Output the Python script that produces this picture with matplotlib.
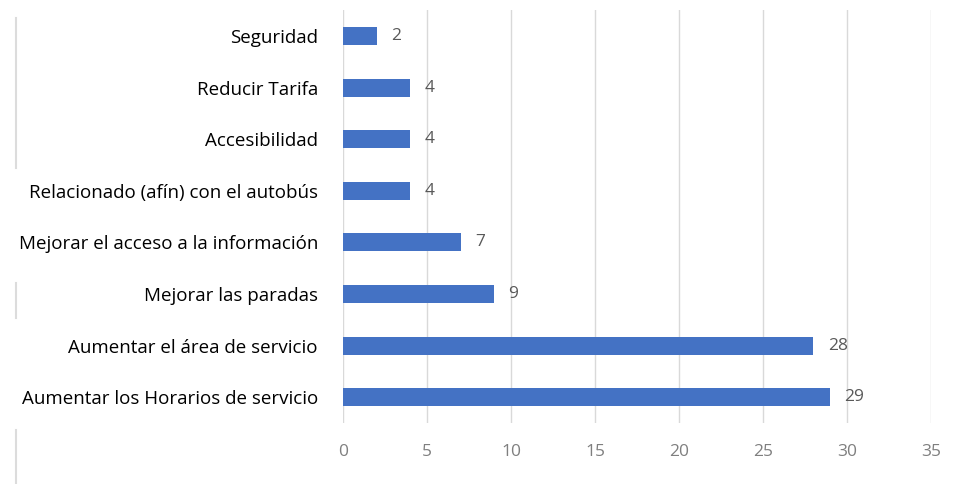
import matplotlib.pyplot as plt
from matplotlib.lines import Line2D

# data
categories = ['Seguridad', 'Reducir Tarifa', 'Accesibilidad',
              'Relacionado (afín) con el autobús',
              'Mejorar el acceso a la información', 'Mejorar las paradas',
              'Aumentar el área de servicio', 'Aumentar los Horarios de servicio']
values = [2, 4, 4, 4, 7, 9, 28, 29]
xticks = [0, 5, 10, 15, 20, 25, 30, 35]

plt.rcParams['font.family'] = ['Open Sans', 'DejaVu Sans']

fig = plt.figure(figsize=(9.54, 4.84), dpi=100)
ax = fig.add_axes([0.3595, 0.126, 0.6165, 0.853])

y = range(len(categories))
ax.barh(y, values, height=0.35, color='#4472C4', zorder=3)
for i, v in zip(y, values):
    ax.text(v + 0.85, i, str(v), va='center', ha='left', fontsize=12.5, color='#595959')

ax.set_xlim(0, 35)
ax.set_ylim(7.5, -0.5)
ax.set_yticks(list(y))
ax.set_yticklabels(categories, fontsize=13.5, color='black')
ax.set_xticks(xticks)
ax.set_xticklabels([str(t) for t in xticks], fontsize=12.5, color='#7f7f7f')
ax.tick_params(length=0)
ax.tick_params(axis='y', pad=18)
ax.tick_params(axis='x', pad=15)
ax.grid(axis='x', color='#d9d9d9', linewidth=1, zorder=0)
for s in ax.spines.values():
    s.set_visible(False)

# faint border fragments at the left edge of the screenshot
for y0, y1 in [(18, 168), (283, 318), (430, 484)]:
    fig.add_artist(Line2D([16/954, 16/954], [1 - y0/484, 1 - y1/484],
                          color='#dcdcdc', linewidth=1.5))

fig.savefig('out.png', dpi=100)
